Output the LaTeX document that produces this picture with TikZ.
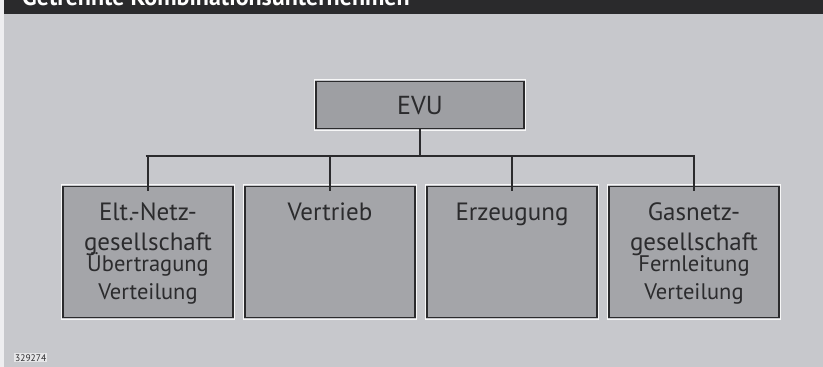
\documentclass[tikz,border=0pt]{standalone}
\usepackage{fontspec}
\setmainfont{PT Sans}
\newfontfamily\hdrfont{PT Sans}
\definecolor{bg}{HTML}{C7C8CC}
\definecolor{boxfill}{HTML}{A4A5A9}
\definecolor{evufill}{HTML}{9E9FA3}
\definecolor{ink}{HTML}{2B2B2D}
\definecolor{hdr}{HTML}{2A2A2C}
\begin{document}
\begin{tikzpicture}[x=1pt,y=-1pt,
  unitbox/.style={draw=ink, line width=1.2pt, fill=boxfill, minimum width=170pt, minimum height=131pt, inner sep=0pt, outer sep=0pt},
  outline/.style={draw=white!85!bg, line width=1.6pt},
  conn/.style={draw=ink, line width=2.6pt},
  maintxt/.style={font=\fontsize{25}{30}\selectfont, text=ink, anchor=base},
  subtxt/.style={font=\fontsize{22.5}{28}\selectfont, text=ink, anchor=base}]
\useasboundingbox (0,0) rectangle (823,367);
\fill[bg] (0,0) rectangle (823,367);
\fill[white!70!bg] (0,0) rectangle (4,367);
% header bar
\fill[hdr] (4,0) rectangle (823,14);
\begin{scope}
\clip (4,0) rectangle (823,14);
\node[anchor=base west, text=white, font=\hdrfont\bfseries\fontsize{24}{28}\selectfont, inner sep=0pt] (title) at (22,5) {Getrennte Kombinationsunternehmen};
\end{scope}
% EVU
\draw[outline] (314.5,79.5) rectangle (525.5,130.5);
\node[draw=ink, line width=1.2pt, fill=evufill, minimum width=208pt, minimum height=47pt, inner sep=0pt] (evu) at (420,105) {};
\node[maintxt, font=\fontsize{26}{30}\selectfont] (evut) at (420,114) {EVU};
% boxes
\foreach \n/\cx in {a/148,b/330,c/512,d/694}{
  \draw[outline] (\cx-86.5,184.5) rectangle (\cx+86.5,319.5);
  \node[unitbox] (\n) at (\cx,252) {};
}
% connectors
\coordinate (bus) at (420,156);
\coordinate (busl) at (147,156);
\coordinate (busr) at (694,156);
\draw[conn] (evu.south) -- (bus);
\draw[conn] ([xshift=-1.3pt]busl) -- ([xshift=1.3pt]busr);
\foreach \n in {a,b,c,d}{
  \draw[conn] (\n.north |- bus) -- ([yshift=-4pt]\n.north);
}
% texts
\node[maintxt] (a1) at (148,220) {Elt.-Netz-};
\node[maintxt] (a2) at (148,250) {gesellschaft};
\node[subtxt] (a3) at (148,271) {Übertragung};
\node[subtxt] (a4) at (148,299) {Verteilung};
\node[maintxt] (b1) at (330,220) {Vertrieb};
\node[maintxt] (c1) at (512,220) {Erzeugung};
\node[maintxt] (d1) at (694,220) {Gasnetz-};
\node[maintxt] (d2) at (694,250) {gesellschaft};
\node[subtxt] (d3) at (694,271) {Fernleitung};
\node[subtxt] (d4) at (694,299) {Verteilung};
% code
\node[fill=white!55!bg, inner sep=1pt, anchor=base west, font=\fontsize{9.5}{10}\selectfont, text=ink] (code) at (14,361) {\rmfamily 329274};
\end{tikzpicture}
\end{document}
